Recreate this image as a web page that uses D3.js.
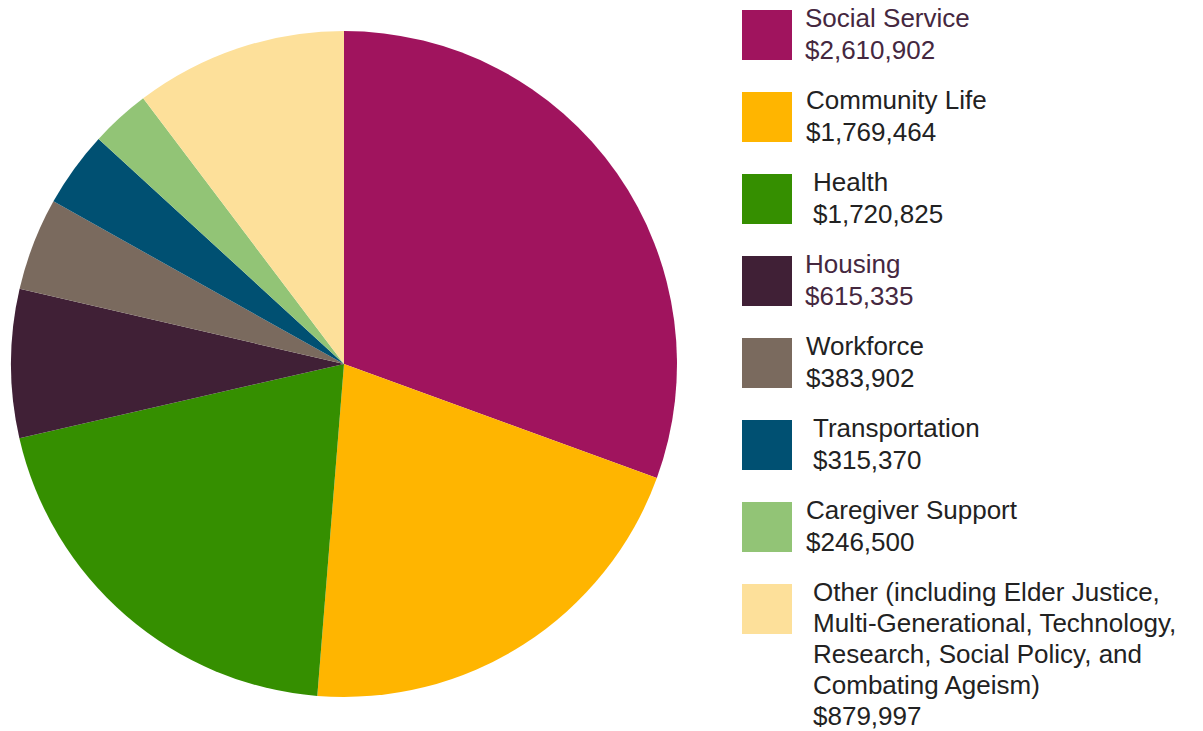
<!DOCTYPE html>
<html>
<head>
<meta charset="utf-8">
<script src="https://cdn.jsdelivr.net/npm/d3@7"></script>
<style>
  html, body { margin: 0; padding: 0; background: #fff; }
  svg { display: block; }
</style>
</head>
<body>
<div id="chart"></div>
<script>
// funding by program area
var categories = ["Social Service", "Community Life", "Health", "Housing", "Workforce",
                  "Transportation", "Caregiver Support", "Other"];
var amounts = [2610902, 1769464, 1720825, 615335, 383902, 315370, 246500, 879997];
var labelLines = [
  ["Social Service"],
  ["Community Life"],
  ["Health"],
  ["Housing"],
  ["Workforce"],
  ["Transportation"],
  ["Caregiver Support"],
  ["Other (including Elder Justice,", "Multi-Generational, Technology,", "Research, Social Policy, and", "Combating Ageism)"]
];
var colors = ["#a0145e", "#ffb500", "#358f00", "#402036", "#7a6a5e", "#005072", "#92c476", "#fde09a"];
var textColors = ["#45283f", "#222", "#222", "#45283f", "#222", "#222", "#222", "#222"];
// the legend text is not aligned the same way on every row
var textIndent = [13, 14, 21, 13, 14, 21, 14, 21];

var width = 1203, height = 731;
var cx = 344, cy = 364, radius = 333;

var svg = d3.select("#chart").append("svg")
  .attr("width", width)
  .attr("height", height);

var data = categories.map(function(c, i) { return {name: c, value: amounts[i], idx: i}; });

var pie = d3.pie().sort(null).value(function(d) { return d.value; });
var arc = d3.arc().innerRadius(0).outerRadius(radius);

var g = svg.append("g").attr("transform", "translate(" + cx + "," + cy + ")");
g.selectAll("path")
  .data(pie(data))
  .enter()
  .append("path")
    .attr("d", arc)
    .attr("fill", function(d) { return colors[d.data.idx]; });

// legend
var fmt = d3.format(",");
var legendX = 742, legendTop = 10, rowStep = 82, boxSize = 50, lineH = 31;

var legend = svg.append("g").attr("class", "legend");
var rows = legend.selectAll("g.row")
  .data(data)
  .enter()
  .append("g")
    .attr("class", "row")
    .attr("transform", function(d, i) { return "translate(" + legendX + "," + (legendTop + i * rowStep) + ")"; });

rows.append("rect")
  .attr("width", boxSize)
  .attr("height", boxSize)
  .attr("fill", function(d) { return colors[d.idx]; });

rows.each(function(d, i) {
  var lines = labelLines[i].concat(["$" + fmt(d.value)]);
  var t = d3.select(this).append("text")
    .attr("x", boxSize + textIndent[i])
    .attr("y", 17)
    .attr("font-family", "'Liberation Sans', Arial, sans-serif")
    .attr("font-size", "26px")
    .attr("fill", textColors[i]);
  lines.forEach(function(s, k) {
    t.append("tspan")
      .attr("x", boxSize + textIndent[i])
      .attr("y", 17 + k * (i === 7 ? lineH : 32))
      .text(s);
  });
});
</script>
</body>
</html>
